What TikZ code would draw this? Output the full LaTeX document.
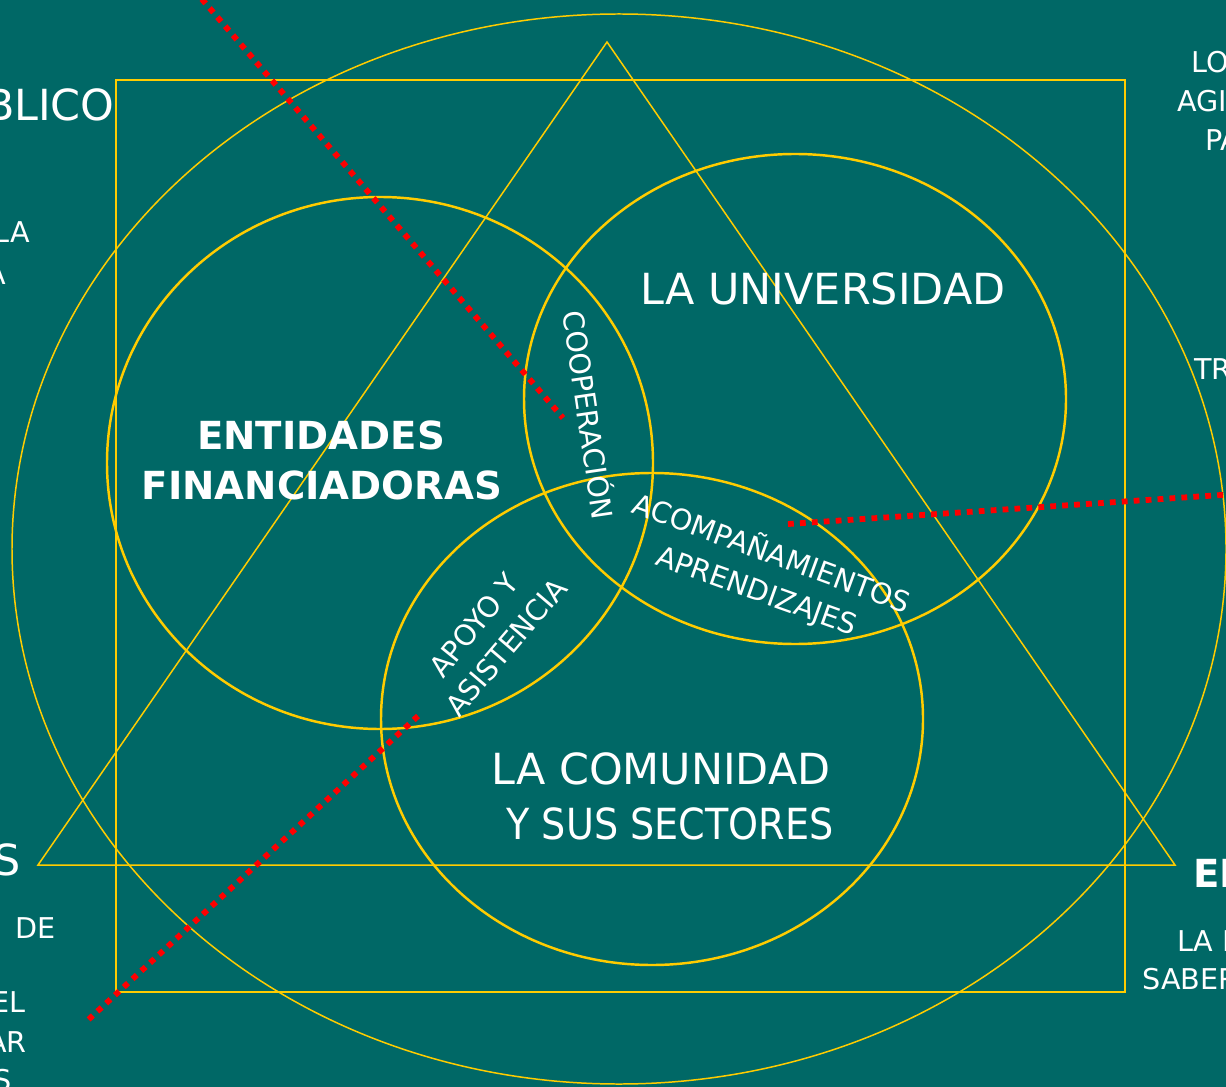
\documentclass[tikz,border=0pt]{standalone}
\usepackage{fontspec}
\setmainfont{DejaVu Sans}
\usetikzlibrary{calc}
\definecolor{fondo}{HTML}{006866}
\definecolor{oro}{HTML}{FFCC00}
\definecolor{rojo}{HTML}{FF0000}
\tikzset{
  marco/.style={oro,line width=1.1pt},
  rama/.style={oro,line width=0.85pt},
  circulo/.style={oro,line width=1.4pt},
  puntos/.style={rojo,line width=3.3pt,dash pattern=on 3.3pt off 3.5pt},
  grande/.style={white,inner sep=0pt,text height=17.5pt,text depth=0pt,font=\fontsize{24.4}{28}\selectfont},
  negrita/.style={white,inner sep=0pt,text height=16pt,text depth=0pt,font=\fontsize{22}{26}\selectfont\bfseries},
  chico/.style={white,inner sep=0pt,text height=12pt,text depth=0pt,font=\fontsize{16.3}{19}\selectfont},
}

\begin{document}
\begin{tikzpicture}[x=0.02cm,y=-0.02cm]
  \fill[fondo] (0,0) rectangle (1226,1087);
  \path[use as bounding box] (0,0) rectangle (1226,1087);
  \clip (0,0) rectangle (1226,1087);

  \draw[rama] (619,549) ellipse [x radius=607,y radius=535];
  \draw[marco] (116,80) rectangle (1125,992);
  \draw[rama] (607,42) -- (38,865) -- (1175,865) -- cycle;
  \draw[circulo] (380,463) ellipse [x radius=273,y radius=266];
  \draw[circulo] (795,399) ellipse [x radius=271,y radius=245];
  \draw[circulo] (652,719) ellipse [x radius=271,y radius=246];

  \coordinate (coopIni) at (194,-10);
  \coordinate (coopFin) at (563,418);
  \coordinate (acomIni) at (788,524);
  \coordinate (acomFin) at (1236,494);
  \coordinate (apoyIni) at (418,716);
  \coordinate (apoyFin) at (88,1020);
  \draw[puntos] (coopIni) -- (coopFin);
  \draw[puntos] (acomIni) -- (acomFin);
  \draw[puntos] (apoyIni) -- (apoyFin);

  \node[grande] (univ) at (823,289) {LA UNIVERSIDAD};
  \node[negrita] (ent1) at (321,435) {ENTIDADES};
  \node[negrita] (ent2) at (322,485) {FINANCIADORAS};
  \node[grande] (com1) at (661,769) {LA COMUNIDAD};
  \node[grande] (com2) at (670,824) {\scalebox{0.89}[1]{Y SUS SECTORES}};
  \node[chico,rotate=-81.6] (coop) at (588,415) {COOPERACIÓN};
  \node[chico,rotate=-20.2] (acom1) at (772,553) {ACOMPAÑAMIENTOS};
  \node[chico,rotate=-19.6] (acom2) at (757,590) {APRENDIZAJES};
  \node[chico,rotate=51] (apoy1) at (474,625) {APOYO Y};
  \node[chico,rotate=49.5] (apoy2) at (506,647) {ASISTENCIA};

  \node[grande,anchor=east] (izq1) at (115,105) {BLICO};
  \node[chico,anchor=east] (izq2) at (30,232) {LA};
  \node[chico,anchor=east] (izq3) at (6,274) {A};
  \node[grande,anchor=east] (izq4) at (21,860) {S};
  \node[chico,anchor=west] (izq5) at (15,928) {DE};
  \node[chico,anchor=east] (izq6) at (26,1002) {EL};
  \node[chico,anchor=east] (izq7) at (27,1042) {AR};
  \node[chico,anchor=east] (izq8) at (12,1080) {S};

  \node[chico,anchor=west] (der1) at (1191,62) {LO};
  \node[chico,anchor=west] (der2) at (1177,101) {AGI};
  \node[chico,anchor=west] (der3) at (1205,140) {PA};
  \node[chico,anchor=west] (der4) at (1194,369) {TR};
  \node[negrita,anchor=west] (der5) at (1193,873) {EL};
  \node[chico,anchor=west] (der6) at (1177,941) {LA I};
  \node[chico,anchor=west] (der7) at (1142,979) {SABER};
\end{tikzpicture}
\end{document}
